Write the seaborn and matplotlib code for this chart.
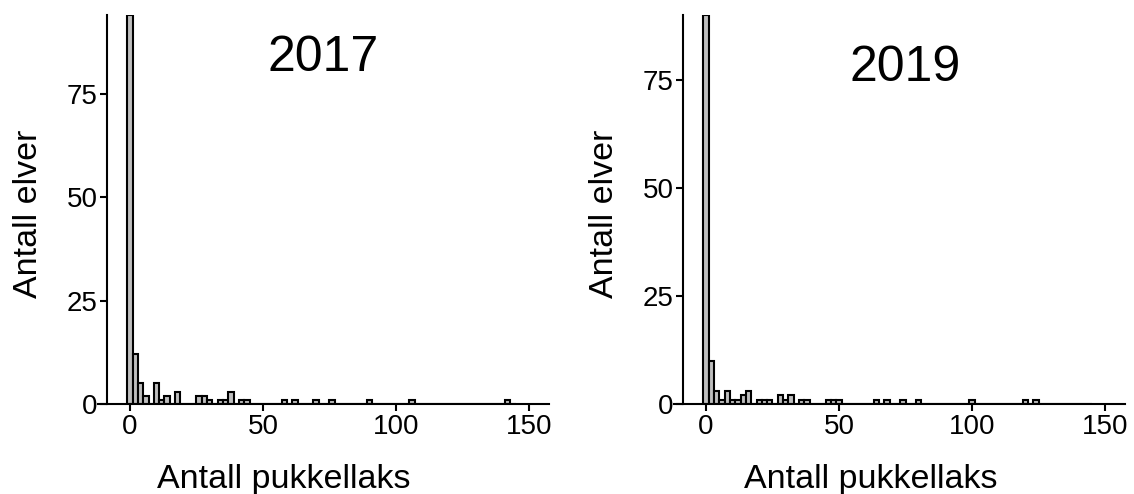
import numpy as np
import seaborn as sns
import matplotlib.pyplot as plt

# Histogram counts (bin width 2, bins centred on even numbers)
years = ['2017', '2019']
centres_2017 = [0, 2, 4, 6, 10, 12, 14, 18, 26, 28, 30, 34, 36, 38, 42, 44,
                58, 62, 70, 76, 90, 106, 142]
counts_2017 = [94, 12, 5, 2, 5, 1, 2, 3, 2, 2, 1, 1, 1, 3, 1, 1,
               1, 1, 1, 1, 1, 1, 1]
centres_2019 = [0, 2, 4, 6, 8, 10, 12, 14, 16, 20, 22, 24, 28, 30, 32, 36, 38,
                46, 48, 50, 64, 68, 74, 80, 100, 120, 124]
counts_2019 = [90, 10, 3, 1, 3, 1, 1, 2, 3, 1, 1, 1, 2, 1, 2, 1, 1,
               1, 1, 1, 1, 1, 1, 1, 1, 1, 1]
x_ticks = [0, 50, 100, 150]
y_ticks = [0, 25, 50, 75]
x_label = 'Antall pukkellaks'
y_label = 'Antall elver'

sns.set_theme(style='ticks')
plt.rcParams['font.family'] = ['Liberation Sans', 'DejaVu Sans']

fig = plt.figure(figsize=(11.34, 4.94), dpi=100)
ax1 = fig.add_axes([0.0864, 0.1822, 0.3977, 0.7874])
ax2 = fig.add_axes([0.5944, 0.1822, 0.3977, 0.7874])

panels = [
    (ax1, centres_2017, counts_2017, years[0], 0.89, 0.5, 0.412),
    (ax2, centres_2019, counts_2019, years[1], 0.864, 0.512, 0.437),
]

for ax, centres, counts, year, title_y, title_x, xlab_x in panels:
    sns.histplot(x=centres, weights=counts, binwidth=2, binrange=(-1, 145),
                 color='#bebebe', edgecolor='black', linewidth=1.5, alpha=1,
                 ax=ax)
    ax.set_xlim(-12, 157.5)
    ax.set_ylim(0, max(counts))
    ax.set_xticks(x_ticks)
    ax.set_yticks(y_ticks)
    ax.spines['left'].set_position(('data', -8.5))
    for side in ['top', 'right']:
        ax.spines[side].set_visible(False)
    for side in ['left', 'bottom']:
        ax.spines[side].set_linewidth(1.5)
        ax.spines[side].set_color('black')
    ax.tick_params(labelsize=20, length=5, width=1.5, color='black',
                   labelcolor='black', pad=2)
    ax.set_xlabel(x_label, fontsize=24.5, color='black')
    ax.set_ylabel(y_label, fontsize=24.5, color='black')
    ax.xaxis.set_label_coords(xlab_x, -0.155)
    ax.yaxis.set_label_coords(-0.12, 0.49)
    ax.text(title_x, title_y, year, transform=ax.transAxes, fontsize=36,
            ha='center', va='center', color='black')

fig.savefig('out.png', dpi=100)
